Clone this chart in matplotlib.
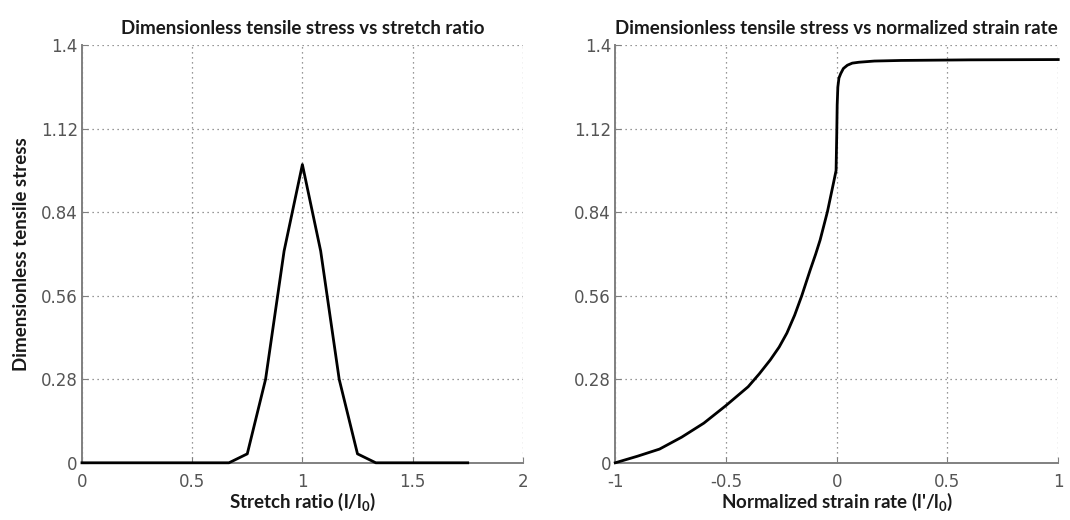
import matplotlib
matplotlib.use("Agg")
import matplotlib.pyplot as plt

plt.rcParams['font.family'] = ['DejaVu Sans']
plt.rcParams['axes.unicode_minus'] = False
plt.rcParams['mathtext.fontset'] = 'custom'
plt.rcParams['mathtext.rm'] = 'Lato'
plt.rcParams['mathtext.bf'] = 'Lato:bold'

# Left panel: stress vs stretch ratio
stretch = [0.0, 0.667, 0.75, 0.833, 0.917, 1.0, 1.083, 1.167, 1.25, 1.333, 1.75]
stress_stretch = [0.0, 0.0, 0.03, 0.28, 0.71, 1.0, 0.71, 0.28, 0.03, 0.0, 0.0]

# Right panel: stress vs normalized strain rate
rate = [-1.0, -0.9, -0.8, -0.7, -0.6, -0.5, -0.4, -0.35, -0.3, -0.26, -0.225, -0.19,
        -0.158, -0.12, -0.095, -0.075, -0.042, -0.015, -0.003, 0.0, 0.002, 0.005,
        0.01, 0.018, 0.03, 0.048, 0.07, 0.1, 0.17, 0.29, 0.6, 1.0]
stress_rate = [0.0, 0.022, 0.046, 0.086, 0.133, 0.192, 0.255, 0.298, 0.345, 0.388,
               0.435, 0.495, 0.56, 0.646, 0.7, 0.747, 0.842, 0.937, 0.98, 1.1, 1.2,
               1.26, 1.29, 1.305, 1.322, 1.333, 1.34, 1.343, 1.347, 1.349, 1.351, 1.352]

yticks = [0, 0.28, 0.56, 0.84, 1.12, 1.4]
ytick_labels = ['0', '0.28', '0.56', '0.84', '1.12', '1.4']
left_xticks = [0, 0.5, 1, 1.5, 2]
left_xtick_labels = ['0', '0.5', '1', '1.5', '2']
right_xticks = [-1, -0.5, 0, 0.5, 1]
right_xtick_labels = ['-1', '-0.5', '0', '0.5', '1']

BOLD = dict(family=['Lato', 'DejaVu Sans'], fontweight='bold', fontsize=13.5, color='#1a1a1a')

fig = plt.figure(figsize=(10.7, 5.2), dpi=100)
ax1 = fig.add_axes([0.0766, 0.110, 0.412, 0.803])
ax2 = fig.add_axes([0.575, 0.110, 0.414, 0.803])

def style(ax, xticks, xlabels, xlim):
    ax.set_xlim(*xlim)
    ax.set_ylim(0, 1.4)
    ax.set_yticks(yticks)
    ax.set_yticklabels(ytick_labels)
    ax.set_xticks(xticks)
    ax.set_xticklabels(xlabels)
    ax.grid(True, linestyle=(0, (1, 3)), color='#777777', linewidth=0.9)
    ax.set_axisbelow(True)
    for s in ['top', 'right']:
        ax.spines[s].set_visible(False)
    for s in ['left', 'bottom']:
        ax.spines[s].set_color('#808080')
        ax.spines[s].set_linewidth(1.4)
    ax.tick_params(direction='in', length=4, color='#808080', labelsize=12,
                   labelcolor='#555555')
    ax.tick_params(axis='y', pad=3)
    ax.tick_params(axis='x', pad=7)

ax1.plot(stretch, stress_stretch, color='black', linewidth=2.0, clip_on=False, zorder=3)
style(ax1, left_xticks, left_xtick_labels, (0, 2))
ax1.set_title('Dimensionless tensile stress vs stretch ratio', pad=8, **BOLD)
ax1.set_xlabel('Stretch ratio (l/l$_\\mathbf{0}$)', labelpad=0, **BOLD)
ax1.set_ylabel('Dimensionless tensile stress', labelpad=8, **BOLD)

ax2.plot(rate, stress_rate, color='black', linewidth=2.0, clip_on=False, zorder=3)
style(ax2, right_xticks, right_xtick_labels, (-1, 1))
ax2.set_title('Dimensionless tensile stress vs normalized strain rate', pad=8, **BOLD)
ax2.set_xlabel("Normalized strain rate (l'/l$_\\mathbf{0}$)", labelpad=0, **BOLD)

fig.savefig('out.png', dpi=100, facecolor='white')
